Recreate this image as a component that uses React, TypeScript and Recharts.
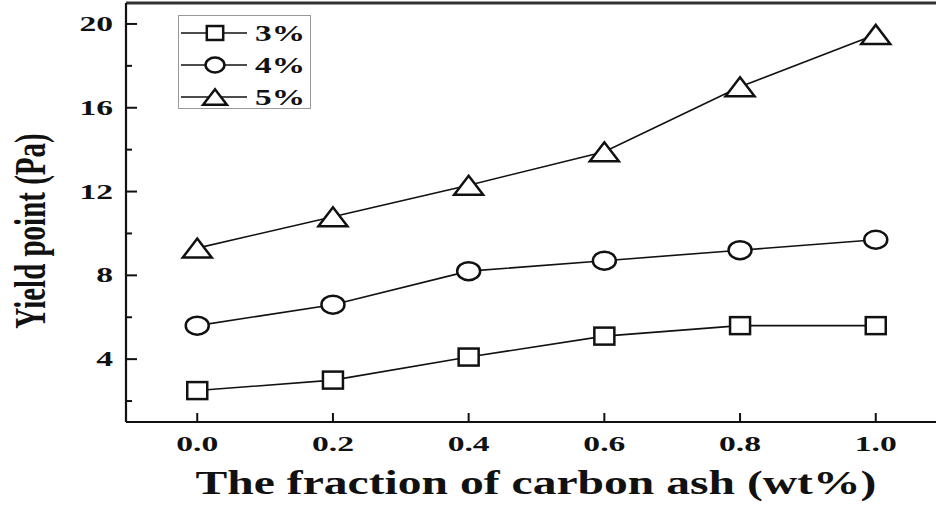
import React from "react";
import { LineChart, Line, XAxis, YAxis, Legend, usePlotArea } from "recharts";

// carbon ash fraction (wt%) on the x axis
const fractions = [0, 0.2, 0.4, 0.6, 0.8, 1.0];
// yield point (Pa) for each additive concentration
const yield3 = [2.5, 3.0, 4.1, 5.1, 5.6, 5.6];
const yield4 = [5.6, 6.6, 8.2, 8.7, 9.2, 9.7];
const yield5 = [9.3, 10.8, 12.3, 13.9, 17.0, 19.5];
const seriesNames = ["3%", "4%", "5%"];

const xTicks = [0, 0.2, 0.4, 0.6, 0.8, 1.0];
const yMajorTicks = [4, 8, 12, 16, 20];
const yMinorTicks = [2, 6, 10, 14, 18];

const X_DOMAIN: [number, number] = [-0.105, 1.105];
const Y_DOMAIN: [number, number] = [1, 21];

const FONT = "'Liberation Serif', 'Times New Roman', serif";
const INK = "#111";
const FRAME = "#333";

const data = fractions.map((f, i) => ({
  f,
  s3: yield3[i],
  s4: yield4[i],
  s5: yield5[i],
}));

type Shape = "square" | "circle" | "triangle";

const Marker = ({ shape, cx, cy, scale = 1 }: { shape: Shape; cx: number; cy: number; scale?: number }) => {
  const common = { fill: "#fff", stroke: INK, strokeWidth: 2.5 };
  if (shape === "square") {
    const w = 20 * scale;
    const h = 17 * scale;
    return <rect x={cx - w / 2} y={cy - h / 2} width={w} height={h} {...common} />;
  }
  if (shape === "circle") {
    return <ellipse cx={cx} cy={cy} rx={11.5 * scale} ry={9 * scale} {...common} />;
  }
  const w = 29 * scale;
  const h = 19 * scale;
  return (
    <polygon
      points={`${cx - w / 2},${cy + h / 2} ${cx + w / 2},${cy + h / 2} ${cx},${cy - h / 2}`}
      strokeLinejoin="miter"
      {...common}
    />
  );
};

const dotFor = (shape: Shape) => (props: any) => {
  const { cx, cy, index } = props;
  return <Marker key={`${shape}-${index}`} shape={shape} cx={cx} cy={cy} />;
};

// horizontally widened bold serif text
const WideText = ({
  x,
  y,
  text,
  size,
  sx,
  anchor = "middle",
}: {
  x: number;
  y: number;
  text: string;
  size: number;
  sx: number;
  anchor?: "start" | "middle" | "end";
}) => (
  <g transform={`translate(${x},${y}) scale(${sx},1)`}>
    <text x={0} y={0} textAnchor={anchor} fontFamily={FONT} fontWeight="bold" fontSize={size} fill={INK}>
      {text}
    </text>
  </g>
);

const YTick = (props: any) => {
  const { x, y, payload } = props;
  const major = yMajorTicks.includes(payload.value);
  return (
    <g>
      <line x1={x} y1={y} x2={x + (major ? 11 : 6)} y2={y} stroke={INK} strokeWidth={2} />
      {major && <WideText x={x - 13} y={y + 7} text={String(payload.value)} size={21} sx={1.6} anchor="end" />}
    </g>
  );
};

const XTick = (props: any) => {
  const { x, y, payload } = props;
  return (
    <g>
      <line x1={x} y1={y} x2={x} y2={y - 9} stroke={INK} strokeWidth={2} />
      <WideText x={x} y={y + 29} text={payload.value.toFixed(1)} size={21} sx={1.6} />
    </g>
  );
};

// top and right edges of the plot frame
const FrameEdges = () => {
  const area = usePlotArea();
  if (!area) return null;
  const { x, y, width, height } = area;
  return (
    <g>
      <line x1={x} y1={y} x2={x + width} y2={y} stroke={FRAME} strokeWidth={3} />
      <line x1={x + width} y1={y} x2={x + width} y2={y + height} stroke={FRAME} strokeWidth={3} />
    </g>
  );
};

const shapes: Shape[] = ["square", "circle", "triangle"];

const LegendBox = () => (
  <svg width={134} height={95} style={{ display: "block" }}>
    <rect x={0.5} y={0.5} width={132} height={93} fill="#fff" stroke="#999" strokeWidth={1} />
    {seriesNames.map((name, i) => {
      const cy = 18 + i * 32;
      return (
        <g key={name}>
          <line x1={3} y1={cy} x2={69} y2={cy} stroke={INK} strokeWidth={1.6} />
          <Marker shape={shapes[i]} cx={37} cy={cy} scale={0.82} />
          <WideText x={77} y={cy + 8} text={name} size={23} sx={1.45} anchor="start" />
        </g>
      );
    })}
  </svg>
);

export default function App() {
  return (
    <div
      style={{
        position: "absolute",
        left: 0,
        top: 0,
        width: 936,
        height: 506,
        overflow: "hidden",
        background: "#fff",
      }}
    >
      <LineChart width={960} height={506} data={data} margin={{ top: 3, right: 13, left: 0, bottom: 0 }}>
        <XAxis
          type="number"
          dataKey="f"
          domain={X_DOMAIN}
          ticks={xTicks}
          interval={0}
          height={84}
          tickSize={0}
          tickMargin={0}
          tickLine={false}
          tick={<XTick />}
          axisLine={{ stroke: INK, strokeWidth: 2.2 }}
          label={{
            content: () => (
              <WideText x={536} y={494} text="The fraction of carbon ash (wt%)" size={34} sx={1.4} />
            ),
          }}
        />
        <YAxis
          type="number"
          domain={Y_DOMAIN}
          ticks={[...yMinorTicks, ...yMajorTicks].sort((a, b) => a - b)}
          interval={0}
          width={126}
          tickSize={0}
          tickMargin={0}
          tickLine={false}
          tick={<YTick />}
          axisLine={{ stroke: INK, strokeWidth: 2.2 }}
          label={{
            content: () => (
              <g transform="translate(45,231) rotate(-90) scale(1,1.5)">
                <text x={0} y={0} textAnchor="middle" fontFamily={FONT} fontWeight="bold" fontSize={29} fill={INK}>
                  Yield point (Pa)
                </text>
              </g>
            ),
          }}
        />
        <Line
          dataKey="s3"
          name={seriesNames[0]}
          type="linear"
          stroke={INK}
          strokeWidth={1.6}
          dot={dotFor("square")}
          isAnimationActive={false}
        />
        <Line
          dataKey="s4"
          name={seriesNames[1]}
          type="linear"
          stroke={INK}
          strokeWidth={1.6}
          dot={dotFor("circle")}
          isAnimationActive={false}
        />
        <Line
          dataKey="s5"
          name={seriesNames[2]}
          type="linear"
          stroke={INK}
          strokeWidth={1.6}
          dot={dotFor("triangle")}
          isAnimationActive={false}
        />
        <Legend
          layout="vertical"
          align="center"
          verticalAlign="middle"
          content={<LegendBox />}
          wrapperStyle={{ left: 178, top: 15, width: 134, height: 95 }}
        />
        <FrameEdges />
      </LineChart>
    </div>
  );
}
